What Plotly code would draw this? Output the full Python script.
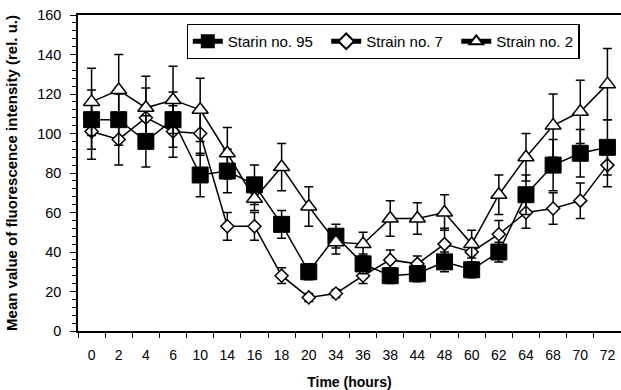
import plotly.graph_objects as go

cats = ["0", "2", "4", "6", "10", "14", "16", "18", "20", "34",
        "36", "38", "44", "48", "60", "62", "64", "68", "70", "72"]

s95 = [107, 107, 96, 107, 79, 81, 74, 54, 30, 48, 34, 28, 29, 35, 31, 40, 69, 84, 90, 93]
s95_err = [15, 13, 13, 14, 11, 11, 10, 7, 4, 6, 5, 4, 4, 5, 4, 5, 10, 13, 12, 14]

s7 = [101, 97, 108, 101, 100, 53, 53, 28, 17, 19, 28, 36, 34, 44, 40, 49, 60, 62, 66, 84]
s7_err = [14, 13, 15, 13, 11, 7, 7, 4, 2, 2, 4, 5, 4, 8, 5, 7, 8, 8, 9, 11]

s2 = [116, 122, 113, 117, 112, 90, 67, 83, 63, 45, 44, 57, 57, 60, 44, 69, 88, 104, 111, 125]
s2_err = [17, 18, 16, 17, 16, 13, 6, 12, 10, 6, 6, 9, 8, 9, 7, 10, 12, 16, 16, 18]

names = ["Starin no. 95", "Strain no. 7", "Strain no. 2"]

FONT = "Arial, Liberation Sans, sans-serif"
PAD = "\u00a0\u00a0"

def err(a):
    return dict(type="data", array=a, visible=True, color="black", thickness=1.5, width=4.5)

fig = go.Figure()
fig.add_trace(go.Scatter(
    x=cats, y=s7, name=names[1] + PAD, mode="lines+markers", legendrank=2,
    line=dict(color="black", width=1.5),
    marker=dict(symbol="diamond", size=10, color="white", line=dict(color="black", width=1.5)),
    error_y=err(s7_err)))
fig.add_trace(go.Scatter(
    x=cats, y=s95, name=names[0] + PAD, mode="lines+markers", legendrank=1,
    line=dict(color="black", width=1.5),
    marker=dict(symbol="square", size=16, color="black", line=dict(color="black", width=1)),
    error_y=err(s95_err)))
fig.add_trace(go.Scatter(
    x=cats, y=s2, name=names[2], mode="lines+markers", legendrank=3,
    line=dict(color="black", width=1.5),
    marker=dict(symbol="triangle-up", size=14, color="white", line=dict(color="black", width=1.5)),
    error_y=err(s2_err)))

fig.update_layout(
    width=621, height=390,
    margin=dict(l=78, r=0, t=15, b=59, autoexpand=False),
    paper_bgcolor="white", plot_bgcolor="white",
    font=dict(family=FONT, size=14, color="black"),
    showlegend=True,
    legend=dict(
        orientation="h", x=0.2, y=0.972, xanchor="left", yanchor="top",
        bordercolor="black", borderwidth=1.2, bgcolor="white",
        font=dict(family=FONT, size=15, color="black"),
        itemsizing="constant", traceorder="normal",
    ),
    xaxis=dict(
        type="category", categoryorder="array", categoryarray=cats,
        range=[-0.5, len(cats) - 0.5], autorange=False,
        showline=True, linecolor="black", linewidth=1.5, mirror=True,
        ticks="outside", tickson="boundaries", ticklen=5, tickwidth=1.2, tickcolor="black",
        showgrid=False, zeroline=False, tickangle=0, automargin=False,
        tickfont=dict(family=FONT, size=14),
        ticklabelstandoff=10,
        title=dict(text="<b>Time (hours)</b>", font=dict(family=FONT, size=14), standoff=16),
    ),
    yaxis=dict(
        range=[0, 160], tickmode="linear", tick0=0, dtick=20,
        showline=True, linecolor="black", linewidth=1.5, automargin=False,
        ticks="outside", ticklen=6, tickwidth=1.2, tickcolor="black",
        minor=dict(dtick=4, ticks="outside", ticklen=4, tickwidth=1, tickcolor="black", showgrid=False),
        showgrid=False, zeroline=False,
        tickfont=dict(family=FONT, size=14.5),
        ticklabelstandoff=6,
        title=dict(text="<b>Mean value of fluorescence intensity (rel. u.)</b>",
                   font=dict(family=FONT, size=15), standoff=16),
    ),
)

fig.write_html("out.html")
